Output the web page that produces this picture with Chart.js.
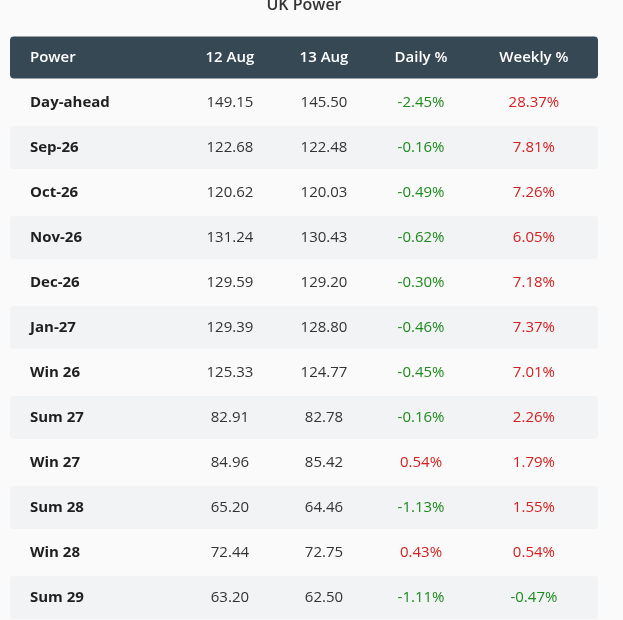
<!DOCTYPE html>
<html>
<head>
<meta charset="utf-8">
<script src="https://cdn.jsdelivr.net/npm/chart.js@4"></script>
<style>
  body { margin: 0; background: #fafafa; }
  #wrap { width: 623px; height: 620px; }
</style>
</head>
<body>
<div id="wrap"><canvas id="myChart"></canvas></div>
<script>
const headers = ['Power', '12 Aug', '13 Aug', 'Daily %', 'Weekly %']
const rows = ['Day-ahead', 'Sep-26', 'Oct-26', 'Nov-26', 'Dec-26', 'Jan-27', 'Win 26', 'Sum 27', 'Win 27', 'Sum 28', 'Win 28', 'Sum 29']
const aug12 = [149.15, 122.68, 120.62, 131.24, 129.59, 129.39, 125.33, 82.91, 84.96, 65.20, 72.44, 63.20]
const aug13 = [145.50, 122.48, 120.03, 130.43, 129.20, 128.80, 124.77, 82.78, 85.42, 64.46, 72.75, 62.50]
const daily = [-2.45, -0.16, -0.49, -0.62, -0.30, -0.46, -0.45, -0.16, 0.54, -1.13, 0.43, -1.11]
const weekly = [28.37, 7.81, 7.26, 6.05, 7.18, 7.37, 7.01, 2.26, 1.79, 1.55, 0.54, -0.47]

// column anchors on the x scale (0..100)
const colPos = [3.4, 37.4, 53.4, 69.9, 89.1]
const font = '"Open Sans", "Noto Sans", sans-serif'

const tablePlugin = {
  id: 'tabla',
  beforeDraw(chart) {
    const { ctx, chartArea, scales } = chart
    const x = scales.x, y = scales.y
    const band = y.getPixelForValue(1) - y.getPixelForValue(0)
    ctx.save()
    // title
    ctx.fillStyle = '#333'
    ctx.font = '600 16px ' + font
    ctx.textAlign = 'center'
    ctx.textBaseline = 'middle'
    ctx.fillText('UK Power', (chartArea.left + chartArea.right) / 2, 5)
    // header band
    const hy = y.getPixelForValue(0)
    ctx.fillStyle = '#374855'
    ctx.beginPath()
    ctx.roundRect(chartArea.left, hy - 21, chartArea.right - chartArea.left, 42, 4)
    ctx.fill()
    // striped rows
    rows.forEach((r, i) => {
      if (i % 2 === 1) {
        const cy = y.getPixelForValue(i + 1)
        ctx.fillStyle = '#f2f3f5'
        ctx.beginPath()
        ctx.roundRect(chartArea.left, cy - band / 2 + 1, chartArea.right - chartArea.left, band - 2, 4)
        ctx.fill()
      }
    })
    // header text
    ctx.fillStyle = '#ffffff'
    ctx.font = '600 15px ' + font
    headers.forEach((h, c) => {
      ctx.textAlign = c === 0 ? 'left' : 'center'
      ctx.fillText(h, x.getPixelForValue(colPos[c]), hy)
    })
    // body
    rows.forEach((r, i) => {
      const cy = y.getPixelForValue(i + 1)
      ctx.textAlign = 'left'
      ctx.fillStyle = '#1f1f1f'
      ctx.font = 'bold 15px ' + font
      ctx.fillText(r, x.getPixelForValue(colPos[0]), cy)
      ctx.textAlign = 'center'
      ctx.font = '15px ' + font
      ctx.fillStyle = '#333'
      ctx.fillText(aug12[i].toFixed(2), x.getPixelForValue(colPos[1]), cy)
      ctx.fillText(aug13[i].toFixed(2), x.getPixelForValue(colPos[2]), cy)
      ctx.fillStyle = daily[i] < 0 ? '#1e8a1e' : '#d42020'
      ctx.fillText(daily[i].toFixed(2) + '%', x.getPixelForValue(colPos[3]), cy)
      ctx.fillStyle = weekly[i] < 0 ? '#1e8a1e' : '#d42020'
      ctx.fillText(weekly[i].toFixed(2) + '%', x.getPixelForValue(colPos[4]), cy)
    })
    ctx.restore()
  }
}

window.onload = function () {
  const ctx = document.getElementById('myChart').getContext('2d')
  new Chart(ctx, {
    type: 'scatter',
    data: { datasets: [] },
    options: {
      responsive: true,
      maintainAspectRatio: false,
      animation: false,
      layout: { padding: { left: 10, right: 25, top: 35, bottom: 0 } },
      plugins: { legend: { display: false }, tooltip: { enabled: false } },
      scales: {
        x: { type: 'linear', min: 0, max: 100, display: false },
        y: { type: 'category', labels: ['header'].concat(rows), offset: true, display: false }
      }
    },
    plugins: [tablePlugin]
  })
}
</script>
</body>
</html>
